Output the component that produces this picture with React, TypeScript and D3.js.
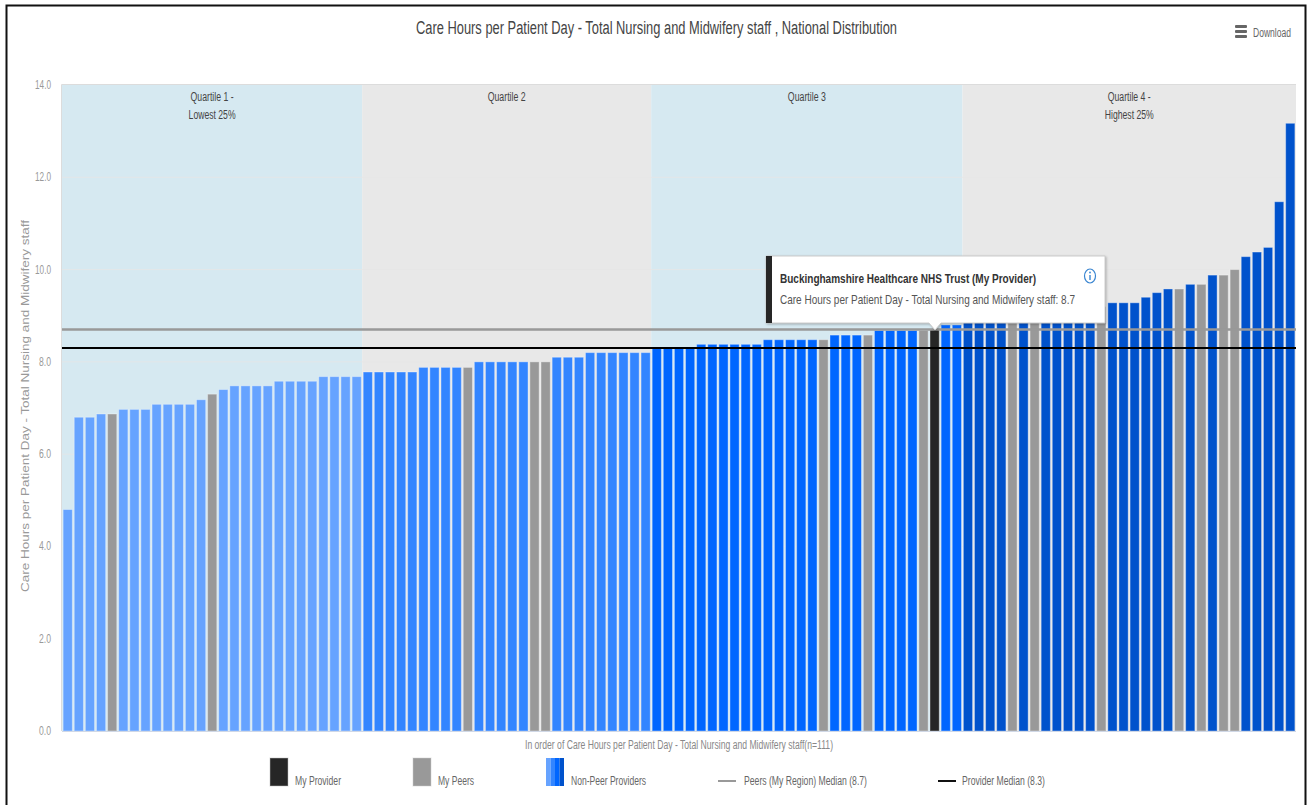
import React from "react";
import * as d3 from "d3";

const careHours = [
  4.8, 6.8, 6.8, 6.87, 6.87, 6.97, 6.97, 6.97, 7.08, 7.08, 7.08, 7.08, 7.18, 7.3, 7.4, 7.48, 7.48, 7.48, 7.48,
  7.58, 7.58, 7.58, 7.58, 7.68, 7.68, 7.68, 7.68,
  7.78, 7.78, 7.78, 7.78, 7.78, 7.88, 7.88, 7.88, 7.88, 7.88, 8.0, 8.0, 8.0, 8.0, 8.0, 8.0, 8.0, 8.1, 8.1, 8.1,
  8.2, 8.2, 8.2, 8.2, 8.2, 8.2,
  8.3, 8.3, 8.3, 8.3, 8.38, 8.38, 8.38, 8.38, 8.38, 8.38, 8.48, 8.48, 8.48, 8.48, 8.48, 8.48, 8.58, 8.58, 8.58,
  8.58, 8.68, 8.68, 8.68, 8.68, 8.68, 8.7, 8.8, 8.8,
  8.9, 8.9, 8.9, 8.9, 8.9, 9.0, 9.0, 9.0, 9.0, 9.1, 9.1, 9.2, 9.2, 9.28, 9.28, 9.28, 9.4, 9.5, 9.58, 9.58, 9.68,
  9.68, 9.88, 9.88, 10.0, 10.28, 10.38, 10.48, 11.47, 13.17,
];
const peerIndices = [4, 13, 36, 42, 43, 68, 72, 77, 85, 87, 93, 100, 102, 104, 105];
const myProviderIndex = 78;
const peerMedian = 8.7;
const providerMedian = 8.3;
const yTicks = [0, 2, 4, 6, 8, 10, 12, 14];

const quartileLabels = [
  ["Quartile 1 -", "Lowest 25%"],
  ["Quartile 2"],
  ["Quartile 3"],
  ["Quartile 4 -", "Highest 25%"],
];
const quartileLabelWidths = [[43, 47], [38], [38], [43, 49]];
const quartileStarts = [0, 27, 53, 81];
const quartileEnds = [27, 53, 81, 111];
const quartileBarColors = ["#66a3ff", "#3385ff", "#0066ff", "#0052cc"];
const quartileBandColors = ["#d6e9f1", "#e8e8e8", "#d6e9f1", "#e8e8e8"];

const titleText = "Care Hours per Patient Day - Total Nursing and Midwifery staff , National Distribution";
const yTitleText = "Care Hours per Patient Day - Total Nursing and Midwifery staff";
const xTitleText = "In order of Care Hours per Patient Day - Total Nursing and Midwifery staff(n=111)";
const tipHeading = "Buckinghamshire Healthcare NHS Trust (My Provider)";
const tipDetail = "Care Hours per Patient Day - Total Nursing and Midwifery staff: 8.7";

const FONT = "'Liberation Sans', Arial, sans-serif";
const plot = { left: 62, right: 1296, top: 85, bottom: 731 };

const x = d3
  .scaleBand<number>()
  .domain(d3.range(careHours.length))
  .range([plot.left, plot.right])
  .paddingInner(0.17)
  .paddingOuter(0.1);
const step = (plot.right - plot.left) / careHours.length;
const edge = (i: number) => plot.left + i * step;
const y = d3.scaleLinear().domain([0, 14]).range([plot.bottom, plot.top]);

function barColor(i: number): string {
  if (i === myProviderIndex) return "#262626";
  if (peerIndices.includes(i)) return "#999999";
  const q = quartileStarts.findIndex((s, k) => i >= s && i < quartileEnds[k]);
  return quartileBarColors[q];
}

// Labels are fitted to a set width because the chart's type runs narrow.
function Label(props: {
  x: number;
  y: number;
  w: number;
  size?: number;
  fill?: string;
  weight?: string;
  anchor?: string;
  transform?: string;
  children: string;
}) {
  const { x: tx, y: ty, w, size = 12, fill = "#666", weight, anchor = "start", transform, children } = props;
  return (
    <text
      x={tx}
      y={ty}
      fontSize={size}
      fill={fill}
      fontWeight={weight}
      textAnchor={anchor}
      transform={transform}
      textLength={w}
      lengthAdjust="spacingAndGlyphs"
    >
      {children}
    </text>
  );
}

export default function App() {
  return (
    <svg
      width={1310}
      height={805}
      fontFamily={FONT}
      style={{ position: "absolute", left: 0, top: 0, display: "block", background: "#fff" }}
    >
      {/* outer frame */}
      <path d="M6.5 805V5.5H1305.5V805" fill="none" stroke="#111" strokeWidth={2} />

      <Label x={656.5} y={34} w={481} size={18} anchor="middle" fill="#444">
        {titleText}
      </Label>

      {/* download menu */}
      <g fill="#666">
        {[25, 30, 35].map((my) => (
          <rect key={my} x={1235} y={my} width={12} height={3} rx={1} />
        ))}
      </g>
      <Label x={1253} y={37} w={38} size={12} fill="#666">
        Download
      </Label>

      {/* quartile bands */}
      {quartileStarts.map((s, k) => (
        <rect
          key={k}
          x={edge(s)}
          y={plot.top}
          width={edge(quartileEnds[k]) - edge(s)}
          height={plot.bottom - plot.top}
          fill={quartileBandColors[k]}
        />
      ))}
      <path
        d={`M${plot.left - 0.5} ${plot.bottom}V${plot.top - 0.5}H${plot.right}`}
        fill="none"
        stroke="#dcdcdc"
      />

      {/* gridlines */}
      {yTicks.slice(1, -1).map((t) => (
        <line key={t} x1={plot.left} x2={plot.right} y1={y(t)} y2={y(t)} stroke="#e6e6e6" strokeOpacity={0.8} />
      ))}

      {/* quartile captions */}
      {quartileLabels.map((lines, k) => {
        const cx = (edge(quartileStarts[k]) + edge(quartileEnds[k])) / 2;
        return lines.map((line, j) => (
          <Label key={line} x={cx} y={101 + j * 18} w={quartileLabelWidths[k][j]} anchor="middle" fill="#444">
            {line}
          </Label>
        ));
      })}

      {/* y axis */}
      {yTicks.map((t) => (
        <Label key={t} x={51} y={y(t) + 4} w={t >= 10 ? 16 : 12} anchor="end" fill="#999">
          {t.toFixed(1)}
        </Label>
      ))}
      <Label x={0} y={0} w={372} size={10} anchor="middle" fill="#999" transform="translate(29,406) rotate(-90)">
        {yTitleText}
      </Label>

      {/* bars */}
      {careHours.map((v, i) => (
        <rect
          key={i}
          x={x(i)}
          y={y(v)}
          width={x.bandwidth()}
          height={plot.bottom - y(v)}
          fill={barColor(i)}
          stroke="#fff"
          strokeOpacity={0.35}
        />
      ))}
      <line x1={plot.left} x2={plot.right} y1={plot.bottom + 0.5} y2={plot.bottom + 0.5} stroke="#d0d8e6" />

      {/* median lines */}
      <line x1={plot.left} x2={plot.right} y1={y(peerMedian)} y2={y(peerMedian)} stroke="#999999" strokeWidth={2.5} />
      <line x1={plot.left} x2={plot.right} y1={y(providerMedian)} y2={y(providerMedian)} stroke="#000" strokeWidth={2} />

      {/* tooltip on the provider's bar */}
      <g>
        <path
          d="M766 256H1105V323H941L935 330L929 323H766Z"
          fill="#fff"
          stroke="#ccc"
          strokeWidth={1}
          style={{ filter: "drop-shadow(1px 1px 1px rgba(0,0,0,0.25))" }}
        />
        <rect x={766} y={256} width={6} height={67} fill="#262626" />
        <Label x={780} y={283} w={256} size={12} weight="bold" fill="#333">
          {tipHeading}
        </Label>
        <Label x={780} y={304} w={295} size={13} fill="#555">
          {tipDetail}
        </Label>
        {/* info icon */}
        <ellipse cx={1090} cy={276} rx={5.5} ry={7} fill="#fff" stroke="#3b86d1" strokeWidth={1.2} />
        <path d="M1090 275V280" stroke="#3b86d1" strokeWidth={1.4} />
        <circle cx={1090} cy={272.5} r={0.9} fill="#3b86d1" />
      </g>

      <Label x={679} y={749} w={308} size={12} anchor="middle" fill="#888">
        {xTitleText}
      </Label>

      {/* legend */}
      <rect x={270} y={758} width={18} height={28} fill="#262626" stroke="#bbb" strokeOpacity={0.5} />
      <Label x={295} y={785} w={46} fill="#666">
        My Provider
      </Label>
      <rect x={413} y={758} width={18} height={28} fill="#999999" stroke="#ccc" strokeOpacity={0.5} />
      <Label x={438} y={785} w={36} fill="#666">
        My Peers
      </Label>
      {quartileBarColors.map((c, k) => (
        <rect key={c} x={546 + k * 4.5} y={758} width={4.5} height={28} fill={c} />
      ))}
      <Label x={571} y={785} w={75} fill="#666">
        Non-Peer Providers
      </Label>
      <line x1={718} x2={736} y1={781} y2={781} stroke="#999999" strokeWidth={2} />
      <Label x={744} y={785} w={123} fill="#666">
        {`Peers (My Region) Median (${peerMedian})`}
      </Label>
      <line x1={938} x2={956} y1={781} y2={781} stroke="#111" strokeWidth={2} />
      <Label x={962} y={785} w={83} fill="#666">
        {`Provider Median (${providerMedian})`}
      </Label>
    </svg>
  );
}
